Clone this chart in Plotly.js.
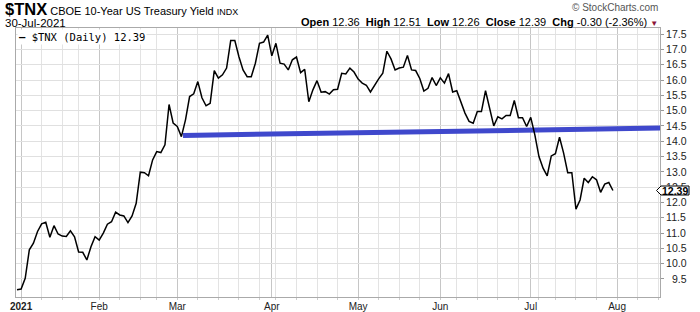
<!DOCTYPE html>
<html>
<head>
<meta charset="utf-8">
<script src="https://cdn.plot.ly/plotly-3.0.1.min.js"></script>
<style>
html,body{margin:0;padding:0;background:#fff;}
#chart{width:700px;height:312px;}
</style>
</head>
<body>
<div id="chart"></div>
<script>
// ---- data ----
const firstDay = '2020-12-31';
const lastCalendarDay = '2021-08-20';
const holidays = ['2021-01-01','2021-01-18','2021-02-15','2021-04-02','2021-05-31','2021-07-05'];
const monthNames = ['Jan','Feb','Mar','Apr','May','Jun','Jul','Aug','Sep','Oct','Nov','Dec'];
const closeValues = [
  9.15, 9.17, 9.52, 10.45, 10.67, 11.05, 11.30, 11.35, 10.86, 11.24,
  10.97, 10.90, 10.89, 11.07, 10.88, 10.38, 10.37, 10.12, 10.55, 10.88,
  10.77, 11.00, 11.29, 11.37, 11.68, 11.59, 11.56, 11.34, 11.56, 11.97,
  12.99, 12.97, 12.87, 13.39, 13.66, 13.63, 13.88, 15.20, 14.59, 14.48,
  14.15, 14.70, 15.46, 15.55, 15.95, 15.42, 15.16, 15.24, 16.31, 16.06,
  16.17, 16.39, 17.29, 17.29, 16.76, 16.33, 16.11, 16.11, 16.55, 17.20,
  17.24, 17.47, 16.79, 17.20, 16.55, 16.52, 16.33, 16.66, 16.75, 16.24,
  16.35, 15.29, 15.68, 15.98, 15.60, 15.62, 15.54, 15.68, 15.70, 16.22,
  16.20, 16.39, 16.26, 16.03, 15.90, 15.83, 15.61, 15.84, 16.04, 16.22,
  16.94, 16.69, 16.33, 16.39, 16.42, 16.80, 16.33, 16.31, 16.05, 15.64,
  15.73, 16.08, 15.82, 16.07, 15.90, 16.21, 15.61, 15.65, 15.27, 14.92,
  14.65, 14.59, 14.97, 14.97, 15.65, 15.08, 14.50, 14.80, 14.73, 14.84,
  14.84, 15.33, 14.77, 14.77, 14.48, 14.78, 14.21, 13.50, 13.12, 12.87,
  13.52, 13.59, 14.13, 13.61, 12.97, 12.97, 11.78, 12.08, 12.79, 12.65,
  12.84, 12.74, 12.33, 12.60, 12.65, 12.39
];
// trend line (trading-day index, yield)
const trendX = [40.4, 156.5];
const trendY = [14.19, 14.43];
const yTicks = [9.5,10.0,10.5,11.0,11.5,12.0,12.5,13.0,13.5,14.0,14.5,15.0,15.5,16.0,16.5,17.0,17.5];
const lastClose = 12.39;
const headerStats = [['Open','12.36'],['High','12.51'],['Low','12.26'],['Close','12.39'],['Chg','-0.30 (-2.36%)']];

// ---- trading calendar ----
const tradingDays = [];
(function(){
  const d = new Date(firstDay + 'T00:00:00Z');
  const end = new Date(lastCalendarDay + 'T00:00:00Z');
  while (d <= end) {
    const dow = d.getUTCDay();
    const iso = d.toISOString().slice(0,10);
    if (dow !== 0 && dow !== 6 && holidays.indexOf(iso) < 0) tradingDays.push(new Date(d.getTime()));
    d.setUTCDate(d.getUTCDate() + 1);
  }
})();
function weekKey(dt){ const m = new Date(dt.getTime()); m.setUTCDate(m.getUTCDate() - ((m.getUTCDay()+6)%7)); return m.toISOString().slice(0,10); }
const weekIdx = [], monthIdx = [], monthText = [];
for (let i = 1; i < tradingDays.length; i++) {
  if (weekKey(tradingDays[i]) !== weekKey(tradingDays[i-1])) weekIdx.push(i);
  if (tradingDays[i].getUTCMonth() !== tradingDays[i-1].getUTCMonth()) {
    monthIdx.push(i);
    const mo = tradingDays[i].getUTCMonth();
    monthText.push(mo === 0 ? '<b>' + tradingDays[i].getUTCFullYear() + '</b>' : monthNames[mo]);
  }
}
const xIdx = closeValues.map((v,i) => i);
const yLabels = yTicks.map(v => (v < 10 ? '\u2007' : '') + v.toFixed(1));

// ---- layout helpers (pixels -> paper) ----
const W = 700, H = 312, ML = 16, MR = 40, MT = 28, MB = 15;
const PW = W - ML - MR, PH = H - MT - MB;
const Y_RANGE = [8.91, 17.70];
const ax = px => (px - ML) / PW;
const ay = py => 1 - (py - MT) / PH;
const yToPaper = v => (v - Y_RANGE[0]) / (Y_RANGE[1] - Y_RANGE[0]);
const SANS = 'Liberation Sans, Arial, sans-serif';

const traces = [
  {x: trendX, y: trendY, mode: 'lines', line: {color: '#3f48cc', width: 5}, hoverinfo: 'skip', showlegend: false},
  {x: xIdx, y: closeValues, mode: 'lines', line: {color: '#000', width: 1.5}, showlegend: false}
];

const statsText = headerStats.map(s => '<b>' + s[0] + '</b> ' + s[1]).join('\u00a0 ') +
  ' <span style="color:#8b1538;font-size:8px">▼</span>';

const layout = {
  width: W, height: H,
  margin: {l: ML, r: MR, t: MT, b: MB, pad: 0},
  paper_bgcolor: '#fff', plot_bgcolor: '#fff',
  font: {family: SANS, size: 11, color: '#000'},
  xaxis: {
    range: [-0.24, 156.45], tickmode: 'array', tickvals: monthIdx, ticktext: monthText,
    showgrid: true, gridcolor: '#c6c6c6', gridwidth: 1, ticks: '', zeroline: false,
    showline: true, linecolor: '#aaa', linewidth: 1, mirror: true,
    tickfont: {family: 'Liberation Sans Narrow, Liberation Sans, Arial', size: 10, color: '#222'},
    minor: {tickmode: 'array', tickvals: weekIdx, showgrid: true, gridcolor: '#e3e3e3', gridwidth: 1,
            ticks: 'outside', ticklen: 2, tickcolor: '#ccc'},
    fixedrange: true
  },
  yaxis: {
    side: 'right', range: Y_RANGE, tickmode: 'array', tickvals: yTicks, ticktext: yLabels,
    showgrid: true, gridcolor: '#e0e0e0', zeroline: false,
    showline: true, linecolor: '#aaa', linewidth: 1, mirror: true,
    ticks: 'outside', ticklen: 3, tickcolor: '#999',
    tickfont: {family: SANS, size: 10.5, color: '#222'},
    fixedrange: true
  },
  shapes: [
    {type: 'path', layer: 'above', xref: 'paper', xsizemode: 'pixel', xanchor: 1,
     yref: 'paper', ysizemode: 'pixel', yanchor: yToPaper(lastClose),
     path: 'M -3.5 0 L 1 4.5 L 29 4.5 L 29 -4.5 L 1 -4.5 Z',
     fillcolor: '#fff', line: {color: '#000', width: 1}}
  ],
  annotations: [
    {xref: 'paper', yref: 'paper', x: ax(3), y: ay(9), xanchor: 'left', yanchor: 'middle', showarrow: false,
     text: '<b><span style="font-size:16.5px">$TNX</span></b> CBOE 10-Year US Treasury Yield <span style="font-size:9px">INDX</span>',
     font: {family: SANS, size: 11, color: '#000'}},
    {xref: 'paper', yref: 'paper', x: ax(3), y: ay(23), xanchor: 'left', yanchor: 'middle', showarrow: false,
     text: '30-Jul-2021', font: {family: SANS, size: 11.5, color: '#000'}},
    {xref: 'paper', yref: 'paper', x: ax(660), y: ay(22), xanchor: 'right', yanchor: 'middle', showarrow: false,
     text: statsText, font: {family: SANS, size: 11, color: '#000'}},
    {xref: 'paper', yref: 'paper', x: ax(660), y: ay(8), xanchor: 'right', yanchor: 'middle', showarrow: false,
     text: '© StockCharts.com', font: {family: SANS, size: 10, color: '#555'}},
    {xref: 'paper', yref: 'paper', x: ax(17), y: ay(29), xanchor: 'left', yanchor: 'top', showarrow: false,
     bgcolor: '#fff', borderpad: 1,
     text: '<b>—</b> $TNX (Daily) ' + lastClose.toFixed(2),
     font: {family: 'DejaVu Sans Mono, Liberation Mono, monospace', size: 10.5, color: '#000'}},
    {xref: 'paper', yref: 'paper', x: 1, y: yToPaper(lastClose), xanchor: 'left', yanchor: 'middle', xshift: 0, showarrow: false,
     text: '<b>' + lastClose.toFixed(2) + '</b>', font: {family: SANS, size: 10.5, color: '#000'}}
  ]
};

Plotly.newPlot('chart', traces, layout, {displayModeBar: false, staticPlot: true});
</script>
</body>
</html>
